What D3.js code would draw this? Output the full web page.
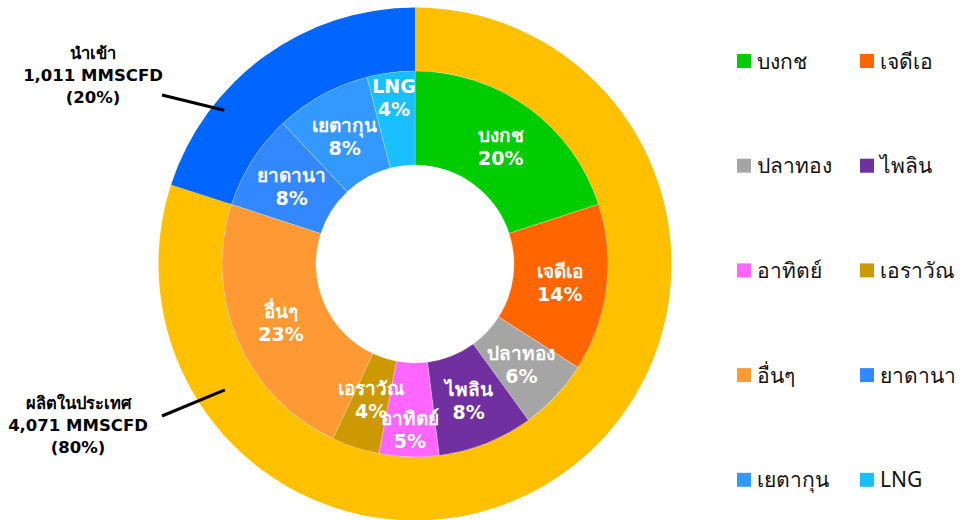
<!DOCTYPE html>
<html>
<head>
<meta charset="utf-8">
<script src="https://cdn.jsdelivr.net/npm/d3@7"></script>
<style>
  body { margin: 0; background: #fff; }
  text { font-family: Tahoma, "Noto Sans", "DejaVu Sans", sans-serif; }
  .bold { font-family: "DejaVu Sans", Tahoma, "Noto Sans", sans-serif; }
</style>
</head>
<body>
<script>

// inner ring: gas sources (% of total supply)
const sources = ['บงกช', 'เจดีเอ', 'ปลาทอง', 'ไพลิน', 'อาทิตย์', 'เอราวัณ', 'อื่นๆ', 'ยาดานา', 'เยตากุน', 'LNG']
const sourceShare = [20, 14, 6, 8, 5, 4, 23, 8, 8, 4]
const sourceColors = ['#00CC00', '#FF6600', '#A5A5A5', '#7030A0', '#FF66FF', '#CC9900', '#FF9933', '#3388FF', '#3399FF', '#19BFFF']

// outer ring: domestic vs imported
const groups = ['ผลิตในประเทศ', 'นำเข้า']
const groupVolume = ['4,071 MMSCFD', '1,011 MMSCFD']
const groupShare = [80, 20]
const groupColors = ['#FFC000', '#0066FF']

const m = { width: 960, height: 520 }
const cx = 415, cy = 264

const svg = d3.select('body').append('svg')
    .attr('width', m.width)
    .attr('height', m.height)

const g = svg.append('g')
    .attr('transform', `translate(${cx},${cy})`)

const pie = d3.pie().sort(null).value(d => d.v)

// outer ring
const outerArc = d3.arc().innerRadius(193).outerRadius(256.5)
const outerData = pie(groups.map((k, i) => ({ k: k, v: groupShare[i], c: groupColors[i] })))

g.selectAll('.outer')
    .data(outerData)
    .enter()
    .append('path')
        .attr('class', 'outer')
        .attr('d', outerArc)
        .attr('fill', d => d.data.c)

// inner ring
const innerArc = d3.arc().innerRadius(99).outerRadius(193)
const innerData = pie(sources.map((k, i) => ({ k: k, v: sourceShare[i], c: sourceColors[i] })))

g.selectAll('.inner')
    .data(innerData)
    .enter()
    .append('path')
        .attr('class', 'inner')
        .attr('d', innerArc)
        .attr('fill', d => d.data.c)
        .attr('stroke', '#fff')
        .attr('stroke-width', 0.5)
        .attr('stroke-opacity', 0.5)

// label radius, small slices pushed outward a bit like the original
const labelR = { 'LNG': 168, 'อาทิตย์': 165, 'เอราวัณ': 142 }

const lbl = g.selectAll('.lbl')
    .data(innerData)
    .enter()
    .append('text')
        .attr('class', 'lbl bold')
        .attr('transform', function(d) {
            const r = labelR[d.data.k] || 146
            const a = (d.startAngle + d.endAngle) / 2
            return `translate(${Math.sin(a) * r},${-Math.cos(a) * r})`
        })
        .attr('text-anchor', 'middle')
        .attr('fill', '#fff')
        .attr('font-weight', 'bold')
        .attr('font-size', 19)

lbl.append('tspan').attr('x', 0).attr('y', -4).text(d => d.data.k)
lbl.append('tspan').attr('x', 0).attr('y', 19).text(d => d.data.v + '%')

// outer labels with leader lines
const outerLabelPos = [{ x: 78, y: 403, lx: 162, ly: 416, a: 0.657, r: 228 },
                       { x: 93, y: 53, lx: 162, ly: 95, a: 0.858, r: 245 }]

outerData.forEach(function(d, i) {
    const p = outerLabelPos[i]
    const ang = p.a * 2 * Math.PI
    svg.append('line')
        .attr('x1', p.lx).attr('y1', p.ly)
        .attr('x2', cx + Math.sin(ang) * p.r)
        .attr('y2', cy - Math.cos(ang) * p.r)
        .attr('stroke', '#000')
        .attr('stroke-width', 3)

    const t = svg.append('text')
        .attr('class', 'bold')
        .attr('x', p.x).attr('y', p.y)
        .attr('text-anchor', 'middle')
        .attr('font-weight', 'bold')
        .attr('font-size', 16.5)
        .attr('fill', '#000')
    const lines = [d.data.k, groupVolume[i], '(' + d.data.v + '%)']
    lines.forEach(function(s, j) {
        t.append('tspan').attr('x', p.x).attr('y', p.y + j * 22 + 6).text(s)
    })
})

// legend, two columns
const legend = svg.selectAll('.leg')
    .data(sources)
    .enter()
    .append('g')
        .attr('class', 'leg')
        .attr('transform', (d, i) => `translate(${i % 2 ? 860 : 737},${61 + Math.floor(i / 2) * 104.7})`)

legend.append('rect')
    .attr('x', 0).attr('y', -7)
    .attr('width', 14).attr('height', 14)
    .attr('fill', (d, i) => sourceColors[i])

legend.append('text')
    .attr('x', 20).attr('y', 0)
    .attr('dy', '0.36em')
    .attr('font-size', 21)
    .attr('fill', '#111')
    .text(d => d)

</script>
</body>
</html>
